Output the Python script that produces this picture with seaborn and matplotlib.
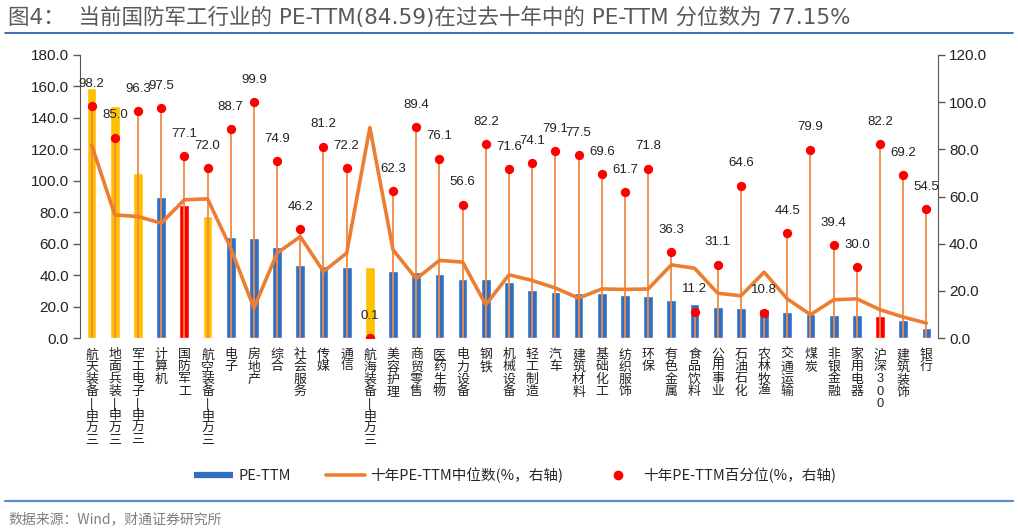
import numpy as np
import pandas as pd
import seaborn as sns
import matplotlib.pyplot as plt
from matplotlib.lines import Line2D

industries = ["航天装备-申万三", "地面兵装-申万三", "军工电子-申万三", "计算机", "国防军工",
              "航空装备-申万三", "电子", "房地产", "综合", "社会服务", "传媒", "通信",
              "航海装备-申万三", "美容护理", "商贸零售", "医药生物", "电力设备", "钢铁",
              "机械设备", "轻工制造", "汽车", "建筑材料", "基础化工", "纺织服饰", "环保",
              "有色金属", "食品饮料", "公用事业", "石油石化", "农林牧渔", "交通运输", "煤炭",
              "非银金融", "家用电器", "沪深300", "建筑装饰", "银行"]

pe_ttm = [159.2, 147.8, 104.8, 90.0, 84.59, 77.5, 64.2, 63.5, 58.0, 46.4, 46.0, 45.3,
          45.3, 42.8, 42.1, 40.6, 37.7, 37.7, 35.6, 30.7, 29.4, 28.6, 28.4, 27.5, 26.7,
          24.1, 21.8, 19.5, 18.8, 18.4, 16.7, 15.0, 14.8, 14.4, 14.0, 11.6, 6.5]

median_10y = [81.9, 52.2, 51.5, 48.7, 58.6, 59.0, 38.1, 12.7, 36.0, 43.0, 28.2, 36.0,
              89.2, 37.4, 25.1, 32.9, 32.2, 14.1, 26.8, 24.4, 21.2, 16.9, 20.8, 20.6, 20.8,
              31.0, 29.6, 19.0, 17.9, 27.9, 16.6, 9.9, 16.2, 16.6, 12.0, 8.9, 6.3]

pct_10y = [98.2, 85.0, 96.3, 97.5, 77.1, 72.0, 88.7, 99.9, 74.9, 46.2, 81.2, 72.2,
           0.1, 62.3, 89.4, 76.1, 56.6, 82.2, 71.6, 74.1, 79.1, 77.5, 69.6, 61.7, 71.8,
           36.3, 11.2, 31.1, 64.6, 10.8, 44.5, 79.9, 39.4, 30.0, 82.2, 69.2, 54.5]

military = ["航天装备-申万三", "地面兵装-申万三", "军工电子-申万三", "航空装备-申万三", "航海装备-申万三"]
benchmark = ["国防军工", "沪深300"]

BLUE, YELLOW, RED, ORANGE = "#2F6FC5", "#FFC000", "#FF0000", "#ED7D31"

sns.set_style("white")
plt.rcParams["font.family"] = ["Liberation Sans", "Noto Sans CJK SC"]

df = pd.DataFrame({"industry": industries, "pe": pe_ttm, "median": median_10y, "pct": pct_10y})
palette = {c: (YELLOW if c in military else RED if c in benchmark else BLUE) for c in industries}

fig = plt.figure(figsize=(10.18, 5.32), dpi=100)
ax = fig.add_axes([80 / 1018, 1 - 338 / 532, 858 / 1018, 283 / 532])

sns.barplot(data=df, x="industry", y="pe", hue="industry", palette=palette, dodge=False,
            legend=False, width=0.42, ax=ax, saturation=1)

ax.set_ylim(0, 180)
ax.set_yticks(np.arange(0, 181, 20))
ax.set_yticklabels([f"{v:.1f}" for v in np.arange(0, 181, 20)])
ax.set_xlim(-0.5, len(industries) - 0.5)
ax.set_xlabel("")
ax.set_ylabel("")


def vertical(label):
    return "\n".join("|" if ch == "-" else ch for ch in label)


ax.set_xticks(range(len(industries)))
ax.set_xticklabels([vertical(c) for c in industries], fontsize=9.3, linespacing=1.02,
                   va="top", color="#222222")
ax.tick_params(axis="x", length=0, pad=8)

ax2 = ax.twinx()
x = np.arange(len(industries))
ax2.vlines(x, 0, df["pct"], color="#F08A45", lw=1.3, zorder=2)
sns.lineplot(x=x, y=df["median"], color=ORANGE, lw=2.6, ax=ax2, zorder=3)
ax2.scatter(x, df["pct"], s=45, color=RED, zorder=4, linewidths=0)
for xi, v in zip(x, df["pct"]):
    ax2.annotate(f"{v:.1f}", (xi, v), xytext=(0, 16), textcoords="offset points",
                 ha="center", va="center", fontsize=9.5, color="#222222")
ax2.set_ylim(0, 120)
ax2.set_yticks(np.arange(0, 121, 20))
ax2.set_yticklabels([f"{v:.1f}" for v in np.arange(0, 121, 20)])
ax2.set_ylabel("")

for a in (ax, ax2):
    for s in ("top", "bottom"):
        a.spines[s].set_visible(False)
    a.tick_params(axis="y", length=5, width=1, color="#595959", labelsize=11,
                  labelcolor="#222222", pad=3)
ax.spines["left"].set_color("#595959")
ax.spines["right"].set_visible(False)
ax2.spines["left"].set_visible(False)
ax2.spines["right"].set_color("#595959")
ax.tick_params(axis="y", left=True)
ax2.tick_params(axis="y", right=True)

handles = [Line2D([], [], color=BLUE, lw=4.5, solid_capstyle="butt"),
           Line2D([], [], color=ORANGE, lw=2.6),
           Line2D([], [], color=RED, marker="o", ls="none", markersize=6)]
labels = ["PE-TTM", "十年PE-TTM中位数(%，右轴)", "十年PE-TTM百分位(%，右轴)"]
fig.legend(handles, labels, loc="center", bbox_to_anchor=(515 / 1018, 1 - 475 / 532),
           ncol=3, frameon=False, handlelength=2.7, handletextpad=0.35,
           columnspacing=2.4, prop={"family": ["Noto Sans CJK SC"], "size": 10.5})

fig.text(8 / 1018, 1 - 17 / 532, "图4：  当前国防军工行业的 PE-TTM(84.59)在过去十年中的 PE-TTM 分位数为 77.15%",
         fontsize=15.5, color="#595959", va="center", ha="left",
         family=["DejaVu Sans", "Noto Sans CJK SC"])
fig.add_artist(Line2D([5 / 1018, 1013 / 1018], [1 - 33 / 532, 1 - 33 / 532],
                      transform=fig.transFigure, color="#1F5BA8", lw=1.2))
fig.add_artist(Line2D([5 / 1018, 1013 / 1018], [1 - 501 / 532, 1 - 501 / 532],
                      transform=fig.transFigure, color="#5B8ED1", lw=1.6))
fig.text(8 / 1018, 1 - 519 / 532, "数据来源：Wind，财通证券研究所", fontsize=10,
         color="#7F7F7F", va="center", ha="left", family=["Noto Sans CJK SC"])

fig.savefig("out.png", dpi=100)
